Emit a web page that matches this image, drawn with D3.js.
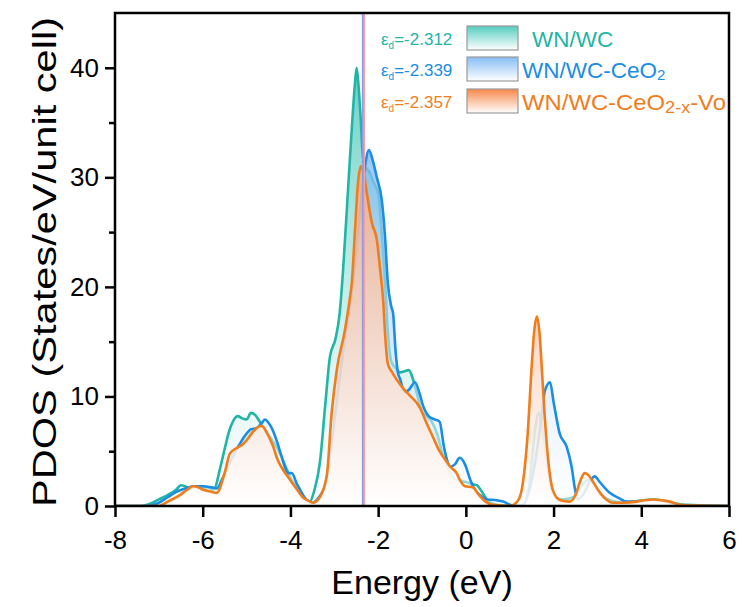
<!DOCTYPE html>
<html><head><meta charset="utf-8">
<script src="https://cdn.jsdelivr.net/npm/d3@7"></script>
<style>body{margin:0;background:#fff}svg{display:block}text{font-family:Arial,"Liberation Sans",sans-serif}</style>
</head><body><svg id="c" width="742" height="607"></svg>
<script>
// ---- data (energy eV, PDOS) ----
const seriesNames = ["WN/WC", "WN/WC-CeO2", "WN/WC-CeO2-x-Vo"];
const dBandCenters = [-2.312, -2.339, -2.357];
const xTicks = [-8, -6, -4, -2, 0, 2, 4, 6];
const yTicks = [0, 10, 20, 30, 40];
const yMinorTicks = [5, 15, 25, 35];

const tealDOS = [[-8,0],[-7.4,0],[-7.2,0.2],[-7.0,0.6],[-6.8,1.0],[-6.6,1.5],[-6.5,1.9],[-6.4,1.8],[-6.3,1.6],[-6.1,1.7],[-5.9,1.7],[-5.75,1.5],[-5.6,3.5],[-5.5,5.2],[-5.4,6.8],[-5.3,7.8],[-5.2,8.2],[-5.1,8.0],[-5.0,7.9],[-4.9,8.5],[-4.8,8.3],[-4.7,7.7],[-4.5,6.5],[-4.3,5.3],[-4.1,3.5],[-4.0,2.6],[-3.8,1.4],[-3.7,0.9],[-3.56,0.4],[-3.45,1.5],[-3.33,3.9],[-3.2,9.5],[-3.1,13.6],[-2.97,15.3],[-2.88,17.5],[-2.8,21.5],[-2.7,28],[-2.6,34.5],[-2.53,38.5],[-2.49,40],[-2.45,38.5],[-2.4,35.5],[-2.35,32],[-2.3,31],[-2.2,30.5],[-2.1,29.5],[-2.0,28.5],[-1.92,25],[-1.85,21],[-1.78,16],[-1.7,13.2],[-1.6,12.6],[-1.5,12.2],[-1.4,12.3],[-1.3,12.4],[-1.2,11.5],[-1.1,10],[-1.0,8.6],[-0.9,8.2],[-0.78,7.7],[-0.65,6.5],[-0.5,4.3],[-0.4,3.4],[-0.3,2.6],[-0.15,2.3],[0,2.2],[0.15,2.0],[0.25,1.9],[0.35,1.4],[0.5,0.5],[0.7,0.1],[1.0,0],[1.3,0.1],[1.45,2],[1.55,6],[1.66,8.5],[1.78,6],[1.9,2.5],[2.0,1.0],[2.2,0.6],[2.45,0.8],[2.6,1.6],[2.8,2.4],[2.95,1.8],[3.1,1.0],[3.3,0.5],[3.6,0.3],[4.0,0.5],[4.3,0.6],[4.7,0.3],[5.0,0.1],[6,0]];

const blueDOS = [[-8,0],[-7.3,0],[-7.0,0.3],[-6.8,0.8],[-6.6,1.3],[-6.4,1.6],[-6.2,1.8],[-6.0,1.8],[-5.8,1.7],[-5.68,1.6],[-5.55,2.5],[-5.4,3.8],[-5.25,5.0],[-5.15,5.7],[-5.0,6.6],[-4.9,7.0],[-4.77,7.1],[-4.65,7.6],[-4.58,7.9],[-4.5,7.6],[-4.4,6.9],[-4.3,5.8],[-4.2,4.5],[-4.06,3.0],[-3.97,3.0],[-3.85,2.0],[-3.78,1.5],[-3.63,0.5],[-3.5,0.3],[-3.35,0.8],[-3.2,2.0],[-3.05,6],[-2.9,11],[-2.75,15.5],[-2.6,19.5],[-2.5,23],[-2.4,27.5],[-2.3,31],[-2.21,32.5],[-2.12,31.5],[-2.03,30],[-1.92,28],[-1.85,25],[-1.78,20.4],[-1.7,18.2],[-1.66,17.6],[-1.6,14],[-1.55,12.2],[-1.5,11.6],[-1.4,10.4],[-1.3,10.6],[-1.16,11.3],[-1.05,10.2],[-0.98,9.2],[-0.85,8.2],[-0.71,7.9],[-0.6,7.7],[-0.5,5.4],[-0.43,4.2],[-0.36,3.6],[-0.25,3.8],[-0.14,4.4],[-0.02,3.8],[0.1,2.4],[0.2,1.5],[0.32,1.0],[0.5,0.6],[0.66,0.55],[0.85,0.4],[1.07,0.05],[1.3,0.1],[1.45,1.5],[1.6,4.5],[1.72,8],[1.8,10.5],[1.92,11.3],[2.0,9.5],[2.14,6.6],[2.3,5.4],[2.41,3.6],[2.49,1.5],[2.55,0.6],[2.7,1.2],[2.85,2.4],[2.94,2.7],[3.05,2.2],[3.28,1.2],[3.5,0.7],[3.67,0.4],[3.9,0.4],[4.1,0.5],[4.27,0.55],[4.5,0.45],[4.65,0.3],[4.9,0.05],[6,0]];

const orangeDOS = [[-8,0],[-7.0,0],[-6.8,0.4],[-6.52,1.0],[-6.35,1.5],[-6.22,1.8],[-6.1,1.7],[-6.0,1.5],[-5.8,1.3],[-5.68,1.2],[-5.5,3.0],[-5.38,4.8],[-5.22,5.3],[-5.1,5.6],[-5.0,6.0],[-4.85,6.8],[-4.74,7.2],[-4.65,7.3],[-4.54,6.7],[-4.4,5.5],[-4.29,4.2],[-4.15,3.2],[-4.01,2.4],[-3.85,1.5],[-3.72,0.8],[-3.6,0.5],[-3.49,0.3],[-3.33,0.8],[-3.17,2.8],[-3.06,8.5],[-2.94,12.5],[-2.76,16],[-2.65,18.8],[-2.6,20.4],[-2.53,25],[-2.46,29.5],[-2.39,31.0],[-2.32,30.2],[-2.26,28.6],[-2.14,25.8],[-2.03,24.3],[-1.96,21.8],[-1.89,19],[-1.83,15],[-1.78,13],[-1.68,12.2],[-1.57,11.5],[-1.4,10.6],[-1.28,10.1],[-1.05,9.0],[-0.9,7.6],[-0.75,6.3],[-0.6,5.0],[-0.43,4.0],[-0.36,3.6],[-0.21,3.0],[-0.14,2.4],[-0.02,1.8],[0.16,1.7],[0.3,1.0],[0.45,0.4],[0.62,0.1],[1.0,0],[1.19,0.5],[1.3,2.1],[1.41,6.6],[1.5,12.7],[1.56,16],[1.62,17.3],[1.68,15.8],[1.73,12.7],[1.8,8.1],[1.87,4.5],[1.98,1.5],[2.14,0.55],[2.37,0.4],[2.5,1.0],[2.62,2.4],[2.71,3.0],[2.8,2.8],[2.87,2.4],[3.06,1.2],[3.2,0.6],[3.35,0.3],[3.6,0.3],[3.9,0.4],[4.1,0.55],[4.27,0.6],[4.5,0.5],[4.65,0.4],[4.88,0.1],[5.2,0.03],[6,0]];

// ---- layout ----
const svg = d3.select("#c");
const x = d3.scaleLinear().domain([-8, 6]).range([115, 729]);
const y = d3.scaleLinear().domain([0, 45]).range([506, 13]);

const lineColors = ["#22b5a6", "#1a8de6", "#f07d1c"];
const fillColors = ["#3cc2b4", "#4a9ded", "#ee8552"];
const fillBottomOpacity = [0.5, 0.5, 0.85];
const swatchColors = ["#55cdbf", "#86bdf5", "#f7884a"];

const defs = svg.append("defs");
lineColors.forEach((c, i) => {
  const g = defs.append("linearGradient").attr("id", "fg" + i)
    .attr("gradientUnits", "userSpaceOnUse")
    .attr("x1", 0).attr("x2", 0).attr("y1", y(45)).attr("y2", y(0));
  g.append("stop").attr("offset", 0).attr("stop-color", fillColors[i]).attr("stop-opacity", 0.9);
  g.append("stop").attr("offset", 1).attr("stop-color", "#ffffff").attr("stop-opacity", fillBottomOpacity[i]);
  const s = defs.append("linearGradient").attr("id", "sg" + i)
    .attr("x1", 0).attr("x2", 0).attr("y1", 0).attr("y2", 1);
  s.append("stop").attr("offset", 0).attr("stop-color", swatchColors[i]);
  s.append("stop").attr("offset", 1).attr("stop-color", "#ffffff");
});
defs.append("clipPath").attr("id", "clip").append("rect")
  .attr("x", x(-8)).attr("y", y(45)).attr("width", x(6) - x(-8)).attr("height", y(0) - y(45));

const area = d3.area().x(d => x(d[0])).y0(y(0)).y1(d => y(d[1])).curve(d3.curveMonotoneX);
const line = d3.line().x(d => x(d[0])).y(d => y(d[1])).curve(d3.curveMonotoneX);

const plot = svg.append("g").attr("clip-path", "url(#clip)");
[tealDOS, blueDOS, orangeDOS].forEach((data, i) => {
  plot.append("path").datum(data).attr("d", area).attr("fill", `url(#fg${i})`);
  plot.append("path").datum(data).attr("d", line).attr("fill", "none")
    .attr("stroke", lineColors[i]).attr("stroke-width", 2.6).attr("stroke-linejoin", "round");
});

// d-band centre lines
const vlineColors = ["#f4a3a3", "#9aa6ea", "#8c9be6"];
dBandCenters.forEach((e, i) => {
  plot.append("line").attr("x1", x(e)).attr("x2", x(e)).attr("y1", y(45)).attr("y2", y(0))
    .attr("stroke", vlineColors[i]).attr("stroke-width", 1.2);
});

// axes
const ax = svg.append("g").attr("transform", `translate(0,${y(0)})`)
  .call(d3.axisBottom(x).tickValues(xTicks).tickSize(11).tickPadding(14).tickFormat(d3.format("d")));
ax.selectAll("text").attr("font-size", 26).attr("fill", "#000").text(d => String(d));
const ay = svg.append("g").attr("transform", `translate(${x(-8)},0)`)
  .call(d3.axisLeft(y).tickValues(yTicks).tickSize(10).tickPadding(6).tickFormat(d3.format("d")));
ay.selectAll("text").attr("font-size", 26).attr("fill", "#000");
const aym = svg.append("g").attr("transform", `translate(${x(-8)},0)`)
  .call(d3.axisLeft(y).tickValues(yMinorTicks).tickSize(6).tickFormat(""));
[ax, ay, aym].forEach(a => {
  a.selectAll(".domain").remove();
  a.selectAll("line").attr("stroke", "#000").attr("stroke-width", 2.5);
});
svg.append("rect").attr("x", x(-8)).attr("y", y(45)).attr("width", x(6) - x(-8)).attr("height", y(0) - y(45))
  .attr("fill", "none").attr("stroke", "#000").attr("stroke-width", 2.5);

// axis titles
svg.append("text").attr("x", 422).attr("y", 594).attr("text-anchor", "middle")
  .attr("font-size", 34).text("Energy (eV)");
svg.append("text").attr("transform", "translate(56,262) rotate(-90)").attr("text-anchor", "middle")
  .attr("font-size", 34).attr("textLength", 490).attr("lengthAdjust", "spacingAndGlyphs")
  .text("PDOS (States/eV/unit cell)");

// legend
const legY = [26, 57, 89];
const leg = svg.append("g");
dBandCenters.forEach((e, i) => {
  const t = leg.append("text").attr("x", 381).attr("y", legY[i] + 19).attr("font-size", 17).attr("fill", lineColors[i]);
  t.append("tspan").text("ε");
  t.append("tspan").attr("font-size", 10).attr("dy", 4).text("d");
  t.append("tspan").attr("dy", -4).text("=" + e.toFixed(3));
  leg.append("rect").attr("x", 467).attr("y", legY[i]).attr("width", 51).attr("height", 24)
    .attr("fill", `url(#sg${i})`).attr("stroke", "#9a9a9a").attr("stroke-width", 1.2);
});
const l0 = leg.append("text").attr("x", 532).attr("y", legY[0] + 21).attr("font-size", 22.5).attr("fill", lineColors[0]).text(seriesNames[0]);
const l1 = leg.append("text").attr("x", 522).attr("y", legY[1] + 21).attr("font-size", 22.5).attr("fill", lineColors[1]);
l1.append("tspan").text("WN/WC-CeO");
l1.append("tspan").attr("font-size", 15).attr("dy", 2).text("2");
const l2 = leg.append("text").attr("x", 522).attr("y", legY[2] + 21).attr("font-size", 22.5).attr("fill", lineColors[2])
  .attr("textLength", 204).attr("lengthAdjust", "spacingAndGlyphs");
l2.append("tspan").text("WN/WC-CeO");
l2.append("tspan").attr("font-size", 17).attr("dy", 3).text("2-x");
l2.append("tspan").attr("dy", -3).text("-Vo");
</script></body></html>
